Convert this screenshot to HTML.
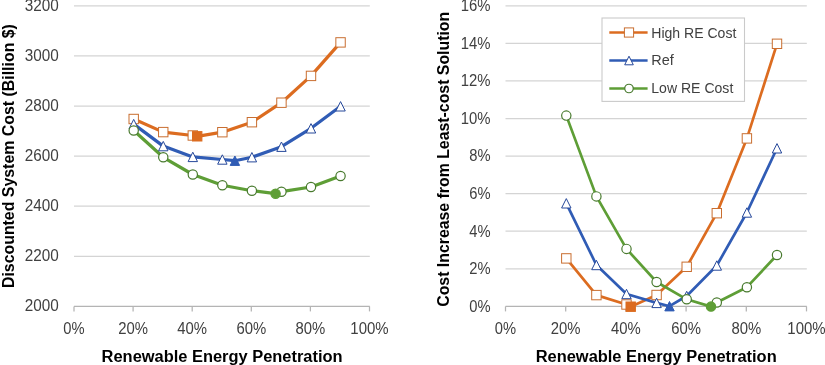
<!DOCTYPE html>
<html><head><meta charset="utf-8"><style>
html,body{margin:0;padding:0;background:#fff;width:825px;height:365px;overflow:hidden;}
body{position:relative;font-family:"Liberation Sans",sans-serif;}
</style></head><body>
<svg width="825" height="365" viewBox="0 0 825 365" style="position:absolute;left:0;top:0;will-change:transform">
<rect width="825" height="365" fill="#FFFFFF"/>
<line x1="74.00" y1="256.30" x2="369.80" y2="256.30" stroke="#D4D4D4" stroke-width="1.25"/>
<line x1="74.00" y1="206.20" x2="369.80" y2="206.20" stroke="#D4D4D4" stroke-width="1.25"/>
<line x1="74.00" y1="156.10" x2="369.80" y2="156.10" stroke="#D4D4D4" stroke-width="1.25"/>
<line x1="74.00" y1="106.00" x2="369.80" y2="106.00" stroke="#D4D4D4" stroke-width="1.25"/>
<line x1="74.00" y1="55.90" x2="369.80" y2="55.90" stroke="#D4D4D4" stroke-width="1.25"/>
<line x1="74.00" y1="5.80" x2="369.80" y2="5.80" stroke="#D4D4D4" stroke-width="1.25"/>
<line x1="74.00" y1="306.40" x2="369.80" y2="306.40" stroke="#B4B4B4" stroke-width="1.25"/>
<line x1="74.00" y1="306.40" x2="74.00" y2="311.40" stroke="#B4B4B4" stroke-width="1.25"/>
<line x1="133.10" y1="306.40" x2="133.10" y2="311.40" stroke="#B4B4B4" stroke-width="1.25"/>
<line x1="192.20" y1="306.40" x2="192.20" y2="311.40" stroke="#B4B4B4" stroke-width="1.25"/>
<line x1="251.30" y1="306.40" x2="251.30" y2="311.40" stroke="#B4B4B4" stroke-width="1.25"/>
<line x1="310.40" y1="306.40" x2="310.40" y2="311.40" stroke="#B4B4B4" stroke-width="1.25"/>
<line x1="369.50" y1="306.40" x2="369.50" y2="311.40" stroke="#B4B4B4" stroke-width="1.25"/>
<path d="M133.70,119.00 L163.25,132.10 L192.80,135.50 L197.20,136.30 L222.35,132.20 L251.90,122.20 L281.45,102.70 L311.00,75.90 L340.55,42.40" fill="none" stroke="#DC6C20" stroke-width="3.2" stroke-linejoin="round" stroke-linecap="round"/>
<path d="M133.70,124.10 L163.25,146.10 L192.80,156.90 L222.35,159.50 L234.90,160.70 L251.90,157.20 L281.45,146.70 L311.00,128.30 L340.55,106.30" fill="none" stroke="#305CB5" stroke-width="3.2" stroke-linejoin="round" stroke-linecap="round"/>
<path d="M133.70,130.50 L163.25,157.30 L192.80,174.50 L222.35,185.20 L251.90,190.70 L275.60,193.70 L281.45,191.70 L311.00,187.00 L340.55,176.00" fill="none" stroke="#5E9E36" stroke-width="3.2" stroke-linejoin="round" stroke-linecap="round"/>
<rect x="129.00" y="114.30" width="9.40" height="9.40" fill="#FFFFFF" stroke="#C96E30" stroke-width="1.0"/>
<rect x="158.55" y="127.40" width="9.40" height="9.40" fill="#FFFFFF" stroke="#C96E30" stroke-width="1.0"/>
<rect x="188.10" y="130.80" width="9.40" height="9.40" fill="#FFFFFF" stroke="#C96E30" stroke-width="1.0"/>
<rect x="217.65" y="127.50" width="9.40" height="9.40" fill="#FFFFFF" stroke="#C96E30" stroke-width="1.0"/>
<rect x="247.20" y="117.50" width="9.40" height="9.40" fill="#FFFFFF" stroke="#C96E30" stroke-width="1.0"/>
<rect x="276.75" y="98.00" width="9.40" height="9.40" fill="#FFFFFF" stroke="#C96E30" stroke-width="1.0"/>
<rect x="306.30" y="71.20" width="9.40" height="9.40" fill="#FFFFFF" stroke="#C96E30" stroke-width="1.0"/>
<rect x="335.85" y="37.70" width="9.40" height="9.40" fill="#FFFFFF" stroke="#C96E30" stroke-width="1.0"/>
<rect x="192.50" y="131.60" width="9.40" height="9.40" fill="#DC6C20" stroke="#DC6C20" stroke-width="1.0"/>
<path d="M133.70,119.40 L138.40,128.80 L129.00,128.80 Z" fill="#FFFFFF" stroke="#26489A" stroke-width="1.0" stroke-linejoin="miter"/>
<path d="M163.25,141.40 L167.95,150.80 L158.55,150.80 Z" fill="#FFFFFF" stroke="#26489A" stroke-width="1.0" stroke-linejoin="miter"/>
<path d="M192.80,152.20 L197.50,161.60 L188.10,161.60 Z" fill="#FFFFFF" stroke="#26489A" stroke-width="1.0" stroke-linejoin="miter"/>
<path d="M222.35,154.80 L227.05,164.20 L217.65,164.20 Z" fill="#FFFFFF" stroke="#26489A" stroke-width="1.0" stroke-linejoin="miter"/>
<path d="M251.90,152.50 L256.60,161.90 L247.20,161.90 Z" fill="#FFFFFF" stroke="#26489A" stroke-width="1.0" stroke-linejoin="miter"/>
<path d="M281.45,142.00 L286.15,151.40 L276.75,151.40 Z" fill="#FFFFFF" stroke="#26489A" stroke-width="1.0" stroke-linejoin="miter"/>
<path d="M311.00,123.60 L315.70,133.00 L306.30,133.00 Z" fill="#FFFFFF" stroke="#26489A" stroke-width="1.0" stroke-linejoin="miter"/>
<path d="M340.55,101.60 L345.25,111.00 L335.85,111.00 Z" fill="#FFFFFF" stroke="#26489A" stroke-width="1.0" stroke-linejoin="miter"/>
<path d="M234.90,156.00 L239.60,165.40 L230.20,165.40 Z" fill="#305CB5" stroke="#305CB5" stroke-width="1.0" stroke-linejoin="miter"/>
<circle cx="133.70" cy="130.50" r="4.65" fill="#FFFFFF" stroke="#487A2E" stroke-width="1.2"/>
<circle cx="163.25" cy="157.30" r="4.65" fill="#FFFFFF" stroke="#487A2E" stroke-width="1.2"/>
<circle cx="192.80" cy="174.50" r="4.65" fill="#FFFFFF" stroke="#487A2E" stroke-width="1.2"/>
<circle cx="222.35" cy="185.20" r="4.65" fill="#FFFFFF" stroke="#487A2E" stroke-width="1.2"/>
<circle cx="251.90" cy="190.70" r="4.65" fill="#FFFFFF" stroke="#487A2E" stroke-width="1.2"/>
<circle cx="281.45" cy="191.70" r="4.65" fill="#FFFFFF" stroke="#487A2E" stroke-width="1.2"/>
<circle cx="311.00" cy="187.00" r="4.65" fill="#FFFFFF" stroke="#487A2E" stroke-width="1.2"/>
<circle cx="340.55" cy="176.00" r="4.65" fill="#FFFFFF" stroke="#487A2E" stroke-width="1.2"/>
<circle cx="275.60" cy="193.70" r="4.65" fill="#5E9E36" stroke="#5E9E36" stroke-width="1.2"/>
<line x1="505.50" y1="268.82" x2="806.80" y2="268.82" stroke="#D4D4D4" stroke-width="1.25"/>
<line x1="505.50" y1="231.24" x2="806.80" y2="231.24" stroke="#D4D4D4" stroke-width="1.25"/>
<line x1="505.50" y1="193.66" x2="806.80" y2="193.66" stroke="#D4D4D4" stroke-width="1.25"/>
<line x1="505.50" y1="156.08" x2="806.80" y2="156.08" stroke="#D4D4D4" stroke-width="1.25"/>
<line x1="505.50" y1="118.50" x2="806.80" y2="118.50" stroke="#D4D4D4" stroke-width="1.25"/>
<line x1="505.50" y1="80.92" x2="806.80" y2="80.92" stroke="#D4D4D4" stroke-width="1.25"/>
<line x1="505.50" y1="43.34" x2="806.80" y2="43.34" stroke="#D4D4D4" stroke-width="1.25"/>
<line x1="505.50" y1="5.76" x2="806.80" y2="5.76" stroke="#D4D4D4" stroke-width="1.25"/>
<line x1="505.50" y1="306.40" x2="806.80" y2="306.40" stroke="#B4B4B4" stroke-width="1.25"/>
<line x1="505.50" y1="306.40" x2="505.50" y2="311.40" stroke="#B4B4B4" stroke-width="1.25"/>
<line x1="565.70" y1="306.40" x2="565.70" y2="311.40" stroke="#B4B4B4" stroke-width="1.25"/>
<line x1="625.90" y1="306.40" x2="625.90" y2="311.40" stroke="#B4B4B4" stroke-width="1.25"/>
<line x1="686.10" y1="306.40" x2="686.10" y2="311.40" stroke="#B4B4B4" stroke-width="1.25"/>
<line x1="746.30" y1="306.40" x2="746.30" y2="311.40" stroke="#B4B4B4" stroke-width="1.25"/>
<line x1="806.50" y1="306.40" x2="806.50" y2="311.40" stroke="#B4B4B4" stroke-width="1.25"/>
<path d="M566.30,258.40 L596.40,295.10 L626.50,304.50 L630.70,306.70 L656.60,295.00 L686.70,266.80 L716.80,213.20 L746.90,138.40 L777.00,43.80" fill="none" stroke="#DC6C20" stroke-width="2.7" stroke-linejoin="round" stroke-linecap="round"/>
<path d="M566.30,203.30 L596.40,265.00 L626.50,294.00 L656.60,302.90 L669.50,306.20 L686.70,296.00 L716.80,265.50 L746.90,212.50 L777.00,148.30" fill="none" stroke="#305CB5" stroke-width="2.7" stroke-linejoin="round" stroke-linecap="round"/>
<path d="M566.30,115.60 L596.40,196.40 L626.50,248.90 L656.60,282.00 L686.70,299.30 L711.00,306.60 L716.80,302.50 L746.90,287.20 L777.00,255.00" fill="none" stroke="#5E9E36" stroke-width="2.7" stroke-linejoin="round" stroke-linecap="round"/>
<rect x="561.60" y="253.70" width="9.40" height="9.40" fill="#FFFFFF" stroke="#C96E30" stroke-width="1.0"/>
<rect x="591.70" y="290.40" width="9.40" height="9.40" fill="#FFFFFF" stroke="#C96E30" stroke-width="1.0"/>
<rect x="621.80" y="299.80" width="9.40" height="9.40" fill="#FFFFFF" stroke="#C96E30" stroke-width="1.0"/>
<rect x="651.90" y="290.30" width="9.40" height="9.40" fill="#FFFFFF" stroke="#C96E30" stroke-width="1.0"/>
<rect x="682.00" y="262.10" width="9.40" height="9.40" fill="#FFFFFF" stroke="#C96E30" stroke-width="1.0"/>
<rect x="712.10" y="208.50" width="9.40" height="9.40" fill="#FFFFFF" stroke="#C96E30" stroke-width="1.0"/>
<rect x="742.20" y="133.70" width="9.40" height="9.40" fill="#FFFFFF" stroke="#C96E30" stroke-width="1.0"/>
<rect x="772.30" y="39.10" width="9.40" height="9.40" fill="#FFFFFF" stroke="#C96E30" stroke-width="1.0"/>
<rect x="626.00" y="302.00" width="9.40" height="9.40" fill="#DC6C20" stroke="#DC6C20" stroke-width="1.0"/>
<path d="M566.30,198.60 L571.00,208.00 L561.60,208.00 Z" fill="#FFFFFF" stroke="#26489A" stroke-width="1.0" stroke-linejoin="miter"/>
<path d="M596.40,260.30 L601.10,269.70 L591.70,269.70 Z" fill="#FFFFFF" stroke="#26489A" stroke-width="1.0" stroke-linejoin="miter"/>
<path d="M626.50,289.30 L631.20,298.70 L621.80,298.70 Z" fill="#FFFFFF" stroke="#26489A" stroke-width="1.0" stroke-linejoin="miter"/>
<path d="M656.60,298.20 L661.30,307.60 L651.90,307.60 Z" fill="#FFFFFF" stroke="#26489A" stroke-width="1.0" stroke-linejoin="miter"/>
<path d="M686.70,291.30 L691.40,300.70 L682.00,300.70 Z" fill="#FFFFFF" stroke="#26489A" stroke-width="1.0" stroke-linejoin="miter"/>
<path d="M716.80,260.80 L721.50,270.20 L712.10,270.20 Z" fill="#FFFFFF" stroke="#26489A" stroke-width="1.0" stroke-linejoin="miter"/>
<path d="M746.90,207.80 L751.60,217.20 L742.20,217.20 Z" fill="#FFFFFF" stroke="#26489A" stroke-width="1.0" stroke-linejoin="miter"/>
<path d="M777.00,143.60 L781.70,153.00 L772.30,153.00 Z" fill="#FFFFFF" stroke="#26489A" stroke-width="1.0" stroke-linejoin="miter"/>
<path d="M669.50,301.50 L674.20,310.90 L664.80,310.90 Z" fill="#305CB5" stroke="#305CB5" stroke-width="1.0" stroke-linejoin="miter"/>
<circle cx="566.30" cy="115.60" r="4.65" fill="#FFFFFF" stroke="#487A2E" stroke-width="1.2"/>
<circle cx="596.40" cy="196.40" r="4.65" fill="#FFFFFF" stroke="#487A2E" stroke-width="1.2"/>
<circle cx="626.50" cy="248.90" r="4.65" fill="#FFFFFF" stroke="#487A2E" stroke-width="1.2"/>
<circle cx="656.60" cy="282.00" r="4.65" fill="#FFFFFF" stroke="#487A2E" stroke-width="1.2"/>
<circle cx="686.70" cy="299.30" r="4.65" fill="#FFFFFF" stroke="#487A2E" stroke-width="1.2"/>
<circle cx="716.80" cy="302.50" r="4.65" fill="#FFFFFF" stroke="#487A2E" stroke-width="1.2"/>
<circle cx="746.90" cy="287.20" r="4.65" fill="#FFFFFF" stroke="#487A2E" stroke-width="1.2"/>
<circle cx="777.00" cy="255.00" r="4.65" fill="#FFFFFF" stroke="#487A2E" stroke-width="1.2"/>
<circle cx="711.00" cy="306.60" r="4.65" fill="#5E9E36" stroke="#5E9E36" stroke-width="1.2"/>
<rect x="602" y="18" width="142.5" height="83.4" fill="#FFFFFF" stroke="#CACACA" stroke-width="1.1"/>
<line x1="609.3" y1="32.50" x2="647.6" y2="32.50" stroke="#DC6C20" stroke-width="2.5"/>
<rect x="624.40" y="27.90" width="9.20" height="9.20" fill="#FFFFFF" stroke="#C96E30" stroke-width="1.0"/>
<line x1="609.3" y1="60.50" x2="647.6" y2="60.50" stroke="#305CB5" stroke-width="2.5"/>
<path d="M629.00,56.20 L633.30,64.80 L624.70,64.80 Z" fill="#FFFFFF" stroke="#26489A" stroke-width="1.0" stroke-linejoin="miter"/>
<line x1="609.3" y1="88.50" x2="647.6" y2="88.50" stroke="#5E9E36" stroke-width="2.5"/>
<circle cx="629.00" cy="88.50" r="4.25" fill="#FFFFFF" stroke="#487A2E" stroke-width="1.2"/>
<text x="58.80" y="311.40" font-family="Liberation Sans, sans-serif" font-size="15.6" text-anchor="end" textLength="34.07" lengthAdjust="spacingAndGlyphs" fill="#404040">2000</text>
<text x="58.80" y="261.30" font-family="Liberation Sans, sans-serif" font-size="15.6" text-anchor="end" textLength="34.07" lengthAdjust="spacingAndGlyphs" fill="#404040">2200</text>
<text x="58.80" y="211.20" font-family="Liberation Sans, sans-serif" font-size="15.6" text-anchor="end" textLength="34.07" lengthAdjust="spacingAndGlyphs" fill="#404040">2400</text>
<text x="58.80" y="161.10" font-family="Liberation Sans, sans-serif" font-size="15.6" text-anchor="end" textLength="34.07" lengthAdjust="spacingAndGlyphs" fill="#404040">2600</text>
<text x="58.80" y="111.00" font-family="Liberation Sans, sans-serif" font-size="15.6" text-anchor="end" textLength="34.07" lengthAdjust="spacingAndGlyphs" fill="#404040">2800</text>
<text x="58.80" y="60.90" font-family="Liberation Sans, sans-serif" font-size="15.6" text-anchor="end" textLength="34.07" lengthAdjust="spacingAndGlyphs" fill="#404040">3000</text>
<text x="58.80" y="10.80" font-family="Liberation Sans, sans-serif" font-size="15.6" text-anchor="end" textLength="34.07" lengthAdjust="spacingAndGlyphs" fill="#404040">3200</text>
<text x="490.60" y="311.70" font-family="Liberation Sans, sans-serif" font-size="15.6" text-anchor="end" textLength="21.29" lengthAdjust="spacingAndGlyphs" fill="#404040">0%</text>
<text x="490.60" y="274.12" font-family="Liberation Sans, sans-serif" font-size="15.6" text-anchor="end" textLength="21.29" lengthAdjust="spacingAndGlyphs" fill="#404040">2%</text>
<text x="490.60" y="236.54" font-family="Liberation Sans, sans-serif" font-size="15.6" text-anchor="end" textLength="21.29" lengthAdjust="spacingAndGlyphs" fill="#404040">4%</text>
<text x="490.60" y="198.96" font-family="Liberation Sans, sans-serif" font-size="15.6" text-anchor="end" textLength="21.29" lengthAdjust="spacingAndGlyphs" fill="#404040">6%</text>
<text x="490.60" y="161.38" font-family="Liberation Sans, sans-serif" font-size="15.6" text-anchor="end" textLength="21.29" lengthAdjust="spacingAndGlyphs" fill="#404040">8%</text>
<text x="490.60" y="123.80" font-family="Liberation Sans, sans-serif" font-size="15.6" text-anchor="end" textLength="29.8" lengthAdjust="spacingAndGlyphs" fill="#404040">10%</text>
<text x="490.60" y="86.22" font-family="Liberation Sans, sans-serif" font-size="15.6" text-anchor="end" textLength="29.8" lengthAdjust="spacingAndGlyphs" fill="#404040">12%</text>
<text x="490.60" y="48.64" font-family="Liberation Sans, sans-serif" font-size="15.6" text-anchor="end" textLength="29.8" lengthAdjust="spacingAndGlyphs" fill="#404040">14%</text>
<text x="490.60" y="11.06" font-family="Liberation Sans, sans-serif" font-size="15.6" text-anchor="end" textLength="29.8" lengthAdjust="spacingAndGlyphs" fill="#404040">16%</text>
<text x="74.00" y="333.50" font-family="Liberation Sans, sans-serif" font-size="15.6" text-anchor="middle" textLength="21.29" lengthAdjust="spacingAndGlyphs" fill="#404040">0%</text>
<text x="505.50" y="333.50" font-family="Liberation Sans, sans-serif" font-size="15.6" text-anchor="middle" textLength="21.29" lengthAdjust="spacingAndGlyphs" fill="#404040">0%</text>
<text x="133.10" y="333.50" font-family="Liberation Sans, sans-serif" font-size="15.6" text-anchor="middle" textLength="29.8" lengthAdjust="spacingAndGlyphs" fill="#404040">20%</text>
<text x="565.70" y="333.50" font-family="Liberation Sans, sans-serif" font-size="15.6" text-anchor="middle" textLength="29.8" lengthAdjust="spacingAndGlyphs" fill="#404040">20%</text>
<text x="192.20" y="333.50" font-family="Liberation Sans, sans-serif" font-size="15.6" text-anchor="middle" textLength="29.8" lengthAdjust="spacingAndGlyphs" fill="#404040">40%</text>
<text x="625.90" y="333.50" font-family="Liberation Sans, sans-serif" font-size="15.6" text-anchor="middle" textLength="29.8" lengthAdjust="spacingAndGlyphs" fill="#404040">40%</text>
<text x="251.30" y="333.50" font-family="Liberation Sans, sans-serif" font-size="15.6" text-anchor="middle" textLength="29.8" lengthAdjust="spacingAndGlyphs" fill="#404040">60%</text>
<text x="686.10" y="333.50" font-family="Liberation Sans, sans-serif" font-size="15.6" text-anchor="middle" textLength="29.8" lengthAdjust="spacingAndGlyphs" fill="#404040">60%</text>
<text x="310.40" y="333.50" font-family="Liberation Sans, sans-serif" font-size="15.6" text-anchor="middle" textLength="29.8" lengthAdjust="spacingAndGlyphs" fill="#404040">80%</text>
<text x="746.30" y="333.50" font-family="Liberation Sans, sans-serif" font-size="15.6" text-anchor="middle" textLength="29.8" lengthAdjust="spacingAndGlyphs" fill="#404040">80%</text>
<text x="369.50" y="333.50" font-family="Liberation Sans, sans-serif" font-size="15.6" text-anchor="middle" textLength="38.32" lengthAdjust="spacingAndGlyphs" fill="#404040">100%</text>
<text x="806.50" y="333.50" font-family="Liberation Sans, sans-serif" font-size="15.6" text-anchor="middle" textLength="38.32" lengthAdjust="spacingAndGlyphs" fill="#404040">100%</text>
<text x="222.10" y="361.60" font-family="Liberation Sans, sans-serif" font-size="15.6" text-anchor="middle" font-weight="bold" textLength="241" lengthAdjust="spacingAndGlyphs" fill="#000000">Renewable Energy Penetration</text>
<text x="656.20" y="361.60" font-family="Liberation Sans, sans-serif" font-size="15.6" text-anchor="middle" font-weight="bold" textLength="241" lengthAdjust="spacingAndGlyphs" fill="#000000">Renewable Energy Penetration</text>
<g transform="translate(14.4,156.1) rotate(-90)"><text x="0.00" y="0.00" font-family="Liberation Sans, sans-serif" font-size="15.6" text-anchor="middle" font-weight="bold" textLength="264" lengthAdjust="spacingAndGlyphs" fill="#000000">Discounted System Cost (Billion $)</text></g>
<g transform="translate(449.3,159.3) rotate(-90)"><text x="0.00" y="0.00" font-family="Liberation Sans, sans-serif" font-size="15.6" text-anchor="middle" font-weight="bold" textLength="295" lengthAdjust="spacingAndGlyphs" fill="#000000">Cost Increase from Least-cost Solution</text></g>
<text x="651.30" y="37.50" font-family="Liberation Sans, sans-serif" font-size="14.6" text-anchor="start" textLength="85" lengthAdjust="spacingAndGlyphs" fill="#404040">High RE Cost</text>
<text x="651.30" y="65.25" font-family="Liberation Sans, sans-serif" font-size="14.6" text-anchor="start" textLength="22.5" lengthAdjust="spacingAndGlyphs" fill="#404040">Ref</text>
<text x="651.30" y="93.00" font-family="Liberation Sans, sans-serif" font-size="14.6" text-anchor="start" textLength="82" lengthAdjust="spacingAndGlyphs" fill="#404040">Low RE Cost</text>
</svg>
</body></html>
